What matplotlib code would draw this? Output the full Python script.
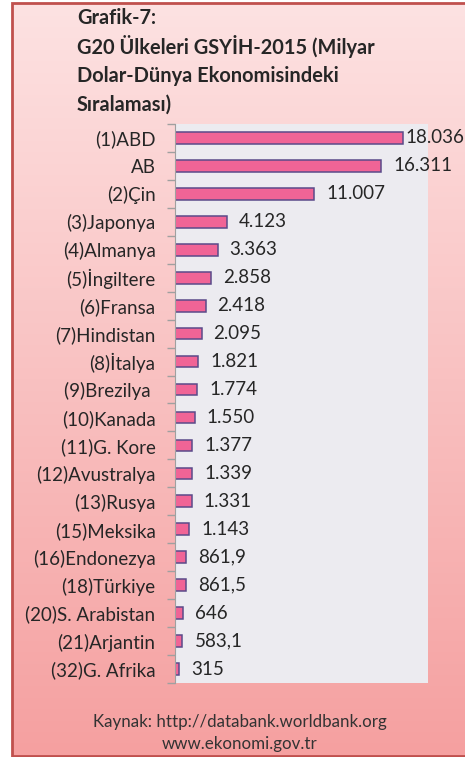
import numpy as np
import matplotlib.pyplot as plt

countries = ["(1)ABD", "AB", "(2)Çin", "(3)Japonya", "(4)Almanya", "(5)İngiltere",
             "(6)Fransa", "(7)Hindistan", "(8)İtalya", "(9)Brezilya ", "(10)Kanada",
             "(11)G. Kore", "(12)Avustralya", "(13)Rusya", "(15)Meksika", "(16)Endonezya",
             "(18)Türkiye", "(20)S. Arabistan", "(21)Arjantin", "(32)G. Afrika"]
gdp = [18036, 16311, 11007, 4123, 3363, 2858, 2418, 2095, 1821, 1774, 1550,
       1377, 1339, 1331, 1143, 861.9, 861.5, 646, 583.1, 315]
value_labels = ["18.036", "16.311", "11.007", "4.123", "3.363", "2.858", "2.418",
                "2.095", "1.821", "1.774", "1.550", "1.377", "1.339", "1.331",
                "1.143", "861,9", "861,5", "646", "583,1", "315"]

plt.rcParams['font.family'] = ['Lato', 'DejaVu Sans']

W, H = 465, 757
fig = plt.figure(figsize=(W / 100, H / 100), dpi=100)

# arka plan (gradyan)
bg = fig.add_axes([0, 0, 1, 1])
bg.set_xlim(0, W)
bg.set_ylim(H, 0)
bg.axis("off")
top = np.array([253, 226, 226]) / 255
bot = np.array([245, 160, 160]) / 255
t = np.linspace(0, 1, 256)[:, None]
grad = (top[None, :] * (1 - t) + bot[None, :] * t)[:, None, :]
bg.imshow(grad, extent=[12, W, 756, 3], aspect="auto", zorder=0)
# cerceve: sol, ust, alt
bg.plot([W, 12, 12, W], [3, 3, 756, 756], color="#c0504d", lw=2, zorder=2,
        solid_joinstyle="miter")

title = ["Grafik-7:", "G20 Ülkeleri GSYİH-2015 (Milyar",
         "Dolar-Dünya Ekonomisindeki", "Sıralaması)"]
for i, line in enumerate(title):
    bg.text(77, 18 + i * 29, line, fontsize=14.4, fontweight="bold",
            color="#262626", va="center", ha="left")

bg.text(240, 722, "Kaynak: http://databank.worldbank.org", fontsize=12.2,
        color="#333333", ha="center", va="center")
bg.text(240, 744, "www.ekonomi.gov.tr", fontsize=12.2,
        color="#333333", ha="center", va="center")

# cubuk grafik
ax = fig.add_axes([175 / W, 1 - 683 / H, (428 - 175) / W, (683 - 124) / H])
ax.set_facecolor("#ecebf0")
y = np.arange(len(countries))
ax.barh(y, gdp, height=0.42, color="#f06496", edgecolor="#5b4a8a", lw=1.1)
ax.set_xlim(0, 20000)
ax.set_ylim(len(countries) - 0.5, -0.5)
for yi, v, lab in zip(y, gdp, value_labels):
    # en uzun etiket resmin disina tasmasin
    ax.text(min(v + 950, 18200), yi, lab, fontsize=13.5, color="#262626",
            va="center", ha="left", clip_on=False)

ax.set_xticks([])
ax.set_yticks(np.arange(-0.5, len(countries), 1))
ax.set_yticklabels([])
ax.set_yticks(y, minor=True)
ax.set_yticklabels(countries, minor=True, fontsize=13.5, color="#262626")
ax.tick_params(axis="y", which="minor", length=0, pad=14)
ax.tick_params(axis="y", which="major", length=6, color="#a0a0a0", width=1)
for s in ["top", "right", "bottom"]:
    ax.spines[s].set_visible(False)
ax.spines["left"].set_color("#a0a0a0")

fig.savefig("out.png", dpi=100)
